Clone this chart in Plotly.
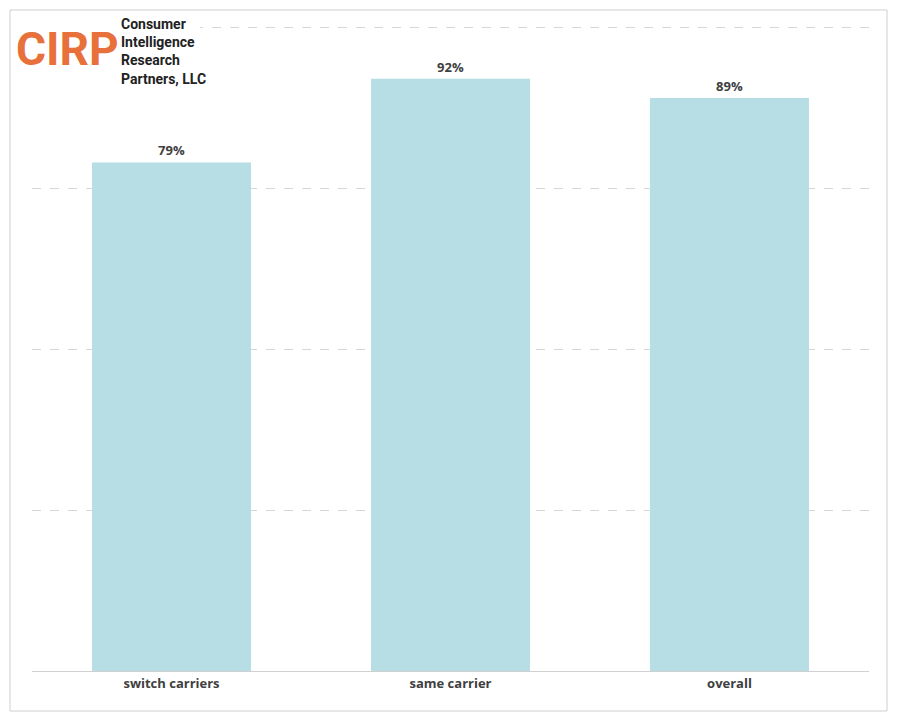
import plotly.graph_objects as go

categories = ["switch carriers", "same carrier", "overall"]
values = [79, 92, 89]
labels = ["79%", "92%", "89%"]

OFF = 8
W, H = 899 - 2 * OFF, 725 - 2 * OFF
L, R, T, B = 24, 22, 18, 46
pw, ph = W - L - R, H - T - B
def px(x): return (x - OFF - L) / pw
def py(y): return (H - B - (y - OFF)) / ph

fig = go.Figure(go.Bar(
    x=categories, y=values, text=["<b>%s</b>" % s for s in labels], textposition="outside",
    textfont=dict(family="Open Sans", size=13, color="#404040"),
    marker=dict(color="#B8DEE5", line=dict(width=0)),
    cliponaxis=False,
))
fig.update_layout(
    width=W, height=H, margin=dict(l=L, r=R, t=T, b=B),
    paper_bgcolor="white", plot_bgcolor="white", bargap=0.43,
    showlegend=False, font=dict(family="Open Sans"),
    xaxis=dict(showline=True, linecolor="#D0D0D0", linewidth=1, ticks="",
               tickvals=categories, ticktext=["<b>%s</b>" % c for c in categories],
               tickfont=dict(size=13, color="#404040")),
    yaxis=dict(range=[0, 100.2], tickvals=[25, 50, 75, 100], showticklabels=False,
               showgrid=True, gridcolor="#D6D6D6", griddash="dash", zeroline=False),
    shapes=[
        dict(type="rect", xref="paper", yref="paper", x0=px(10), x1=px(887),
             y0=py(711), y1=py(10), line=dict(color="#CFCFCF", width=1), layer="above"),
        dict(type="rect", xref="paper", yref="paper", x0=px(14), x1=px(200),
             y0=py(86), y1=py(12), fillcolor="white", line=dict(width=0), layer="above"),
    ],
    annotations=[
        dict(text="<b>CIRP</b>", xref="paper", yref="paper", x=px(14), y=py(49),
             xanchor="left", yanchor="middle", showarrow=False,
             font=dict(family="Roboto", size=46, color="#E8703A")),
        dict(text="<b>Consumer<br>Intelligence<br>Research<br>Partners, LLC</b>",
             xref="paper", yref="paper", x=px(119), y=py(14), align="left",
             xanchor="left", yanchor="top", showarrow=False,
             font=dict(family="Liberation Sans Narrow, Roboto", size=14, color="#222222")),
    ],
)
fig.write_html("out.html")
